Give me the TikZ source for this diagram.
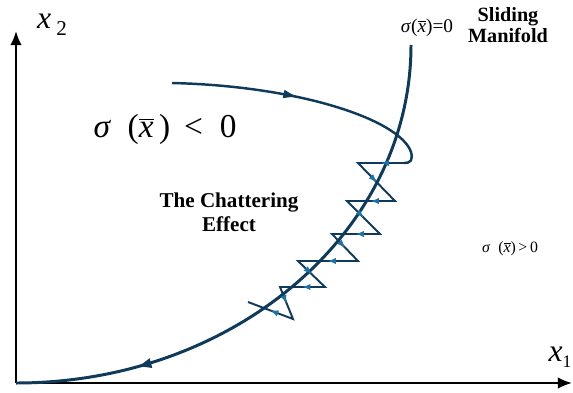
\documentclass[tikz,border=0pt]{standalone}
\usepackage{fontspec}
\setmainfont{Liberation Serif}
\usetikzlibrary{arrows.meta, positioning, decorations.markings}
\definecolor{navy}{HTML}{0F3A5A}
\definecolor{chatblue}{HTML}{1E72A8}
\newcommand{\xbar}{\ensuremath{\overline{\textit{x}}}}

\begin{document}
\begin{tikzpicture}[x=0.02cm, y=-0.02cm,
    axis/.style={-{Latex[length=8pt,width=6.5pt]}, line width=1.2pt},
    manifold/.style={navy, line width=1.7pt, postaction={decorate},
        decoration={markings, mark=at position 0.79 with
        {\arrow{Latex[length=9pt,width=6pt]}}}},
    traj/.style={navy, line width=1.4pt, postaction={decorate},
        decoration={markings, mark=at position 0.47 with
        {\arrow{Latex[length=9pt,width=5pt]}}}},
    zig/.style={navy, line width=1.1pt},
    zigarrow/.style={postaction={decorate},
        decoration={markings, mark=at position 0.5 with
        {\arrow{Latex[length=4.5pt,width=3.5pt,color=chatblue]}}}},
    bigmath/.style={font=\fontsize{18}{20}\selectfont},
    boldlab/.style={font=\bfseries\fontsize{12}{13.5}\selectfont, align=center}
]
\useasboundingbox (0,0) rectangle (573,392);

% Axes
\coordinate (O) at (16,383);
\coordinate (ytip) at (16,31);
\coordinate (xtip) at (572,383);
\draw[axis] (O) -- (ytip);
\draw[axis] (O) -- (xtip);
\node[bigmath] (lx2) at (52,25) {\textit{x}\,\raisebox{-0.45ex}{\fontsize{12}{12}\selectfont 2}};
\node[bigmath] (lx1) at (560,357) {\textit{x}\raisebox{-0.45ex}{\fontsize{10}{10}\selectfont 1}};

% Sliding manifold
\coordinate (mtop) at (411,45);
\draw[manifold] (mtop) .. controls (411,232) and (234,383) .. (O);
\node[font=\fontsize{11}{11}\selectfont, inner sep=0pt] (szero) at (427,28)
    {\textit{σ}(\xbar)=0};
\node[font=\bfseries\fontsize{11.5}{10.5}\selectfont, align=center] (slide) at (508,25)
    {Sliding\\Manifold};

% Trajectory reaching the manifold
\coordinate (s) at (172,83);
\coordinate (k) at (404,163);
\draw[traj] (s) .. controls (300,86) and (400,120) .. (411,152)
    .. controls (413,160) and (411,163) .. (k);

% Chattering
\coordinate (a1) at (358,163);
\coordinate (b1) at (395,201);
\coordinate (a2) at (347,201);
\coordinate (b2) at (380,234);
\coordinate (a3) at (332,234);
\coordinate (b3) at (358,261);
\coordinate (a4) at (298,261);
\coordinate (b4) at (325,287);
\coordinate (a5) at (280,287);
\coordinate (b5) at (293,319);
\coordinate (e) at (248,302);
\draw[zig] (k) -- (a1) -- (b1) -- (a2) -- (b2) -- (a3) -- (b3)
    -- (a4) -- (b4) -- (a5) -- (b5) -- (e);
\foreach \p/\q in {k/a1, a1/b1, b1/a2, a2/b2, b2/a3, a3/b3,
                   b3/a4, a4/b4, b4/a5, a5/b5, b5/e}
    \path[zigarrow] (\p) -- (\q);

% Labels
\node[font=\fontsize{19}{21}\selectfont] (sneg) at (165,129)
    {\textit{σ}\ \ (\xbar\,)\ \,<\ \ 0};
\node[boldlab] (chat) at (229,212) {The Chattering\\Effect};
\node[font=\fontsize{9}{9}\selectfont] (spos) at (510,249)
    {\textit{σ}\ \ (\xbar)\,>\,0};

\end{tikzpicture}
\end{document}
